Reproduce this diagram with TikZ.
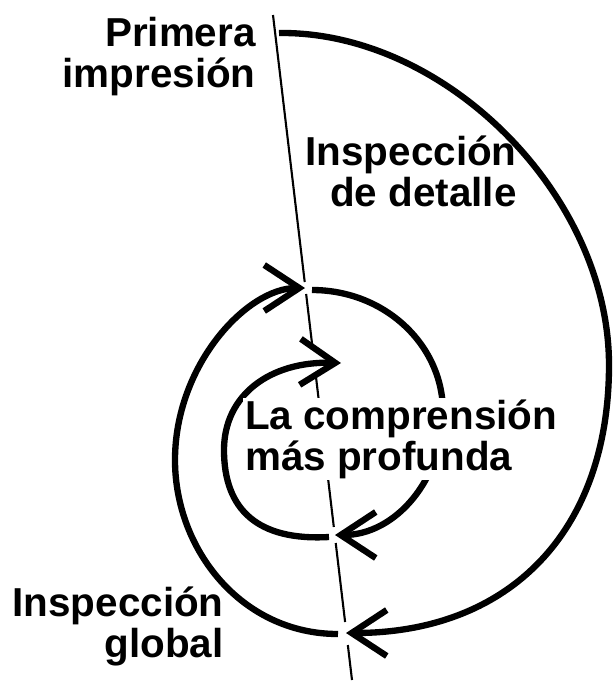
\documentclass[tikz,border=0pt]{standalone}
\usepackage{fontspec}
\setmainfont{Liberation Sans}
\usetikzlibrary{arrows.meta,calc}
\begin{document}
\begin{tikzpicture}[
  x=0.02cm,y=-0.02cm,
  axis/.style={draw=black,line width=1.2pt},
  spiral/.style={draw=black,line width=3.6pt,-{Straight Barb[length=0.7cm,width=0.92cm]}},
  phase/.style={font=\bfseries\fontsize{23}{23}\selectfont,text=black,inner sep=0pt},
]
\useasboundingbox (0,0) rectangle (614,681);
\coordinate (ax0) at (273,15);
\coordinate (ax1) at (352,680);
\foreach \a/\b in {0/0.4015,0.4195/0.4962,0.5459/0.7699,0.7940/0.9128,0.9474/1}{
  \draw[axis] ($(ax0)!\a!(ax1)$) -- ($(ax0)!\b!(ax1)$);
}
\coordinate (s1) at (279,33);
\coordinate (t1) at (346,633);
\coordinate (s2) at (338,634);
\coordinate (t2) at (305,288);
\coordinate (s3) at (312,290);
\coordinate (t3) at (335,535);
\coordinate (s4) at (329,537);
\coordinate (t4) at (341,363);
\draw[spiral] (s1) .. controls (446,31) and (609,196) .. (609,365)
  .. controls (609,531) and (510,633) .. (t1);
\draw[spiral] (s2) .. controls (242,634) and (175,550) .. (175,460)
  .. controls (175,365) and (247,288) .. (t2);
\draw[spiral] (s3) .. controls (385,290) and (443,345) .. (443,412)
  .. controls (443,480) and (395,535) .. (t3);
\draw[spiral] (s4) .. controls (258,541) and (224,510) .. (224,450)
  .. controls (224,395) and (270,361) .. (t4);
\node[phase,anchor=north east,align=right] (first) at (256,17) {Primera\\impresión};
\node[phase,anchor=north east,align=right] (detail) at (517,136) {Inspección\\de detalle};
\node[phase,anchor=north west,align=left,fill=white,inner sep=1pt] (deep) at (243,398) {La comprensión\\más profunda};
\node[phase,anchor=north east,align=right] (global) at (224,587) {Inspección\\global};
\end{tikzpicture}
\end{document}
